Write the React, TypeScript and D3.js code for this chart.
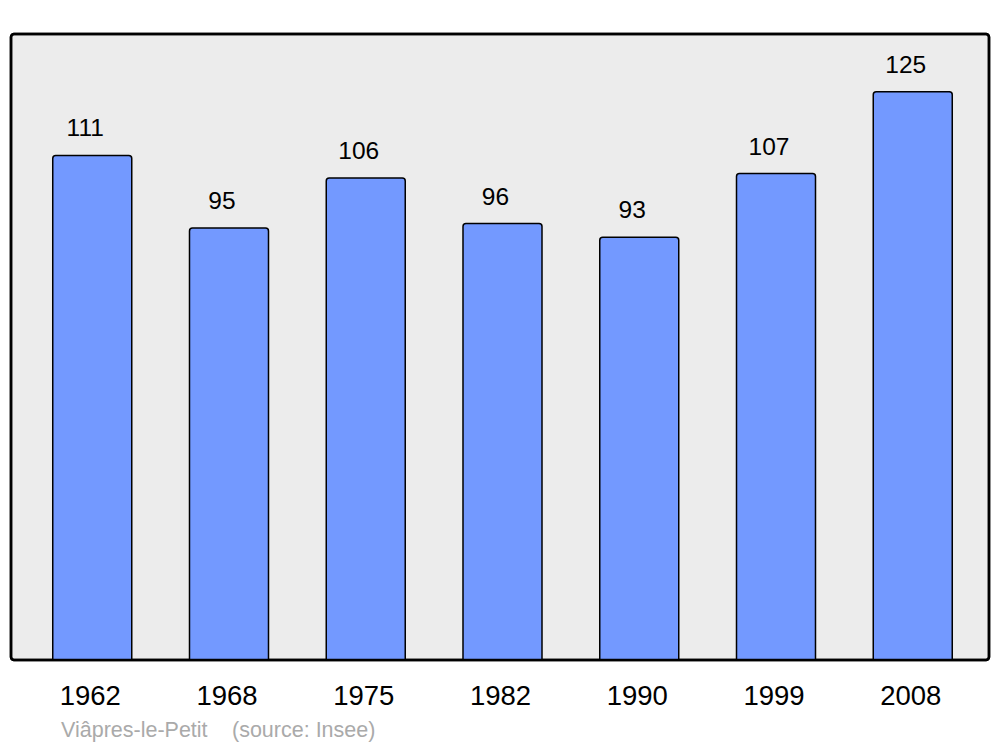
import React from "react";
import * as d3 from "d3";

const years = ["1962", "1968", "1975", "1982", "1990", "1999", "2008"];
const population = [111, 95, 106, 96, 93, 107, 125];
const townName = "Viâpres-le-Petit";
const sourceText = "(source: Insee)";

export default function App() {
  const W = 1000;
  const H = 747;
  const panel = { x: 11, y: 34, w: 978, h: 626 };
  const x = d3
    .scaleBand<string>()
    .domain(years)
    .range([16, 989])
    .paddingInner(0.4223)
    .paddingOuter(0.2687);
  const y = d3.scaleLinear().domain([0, 137.7]).range([panel.y + panel.h, panel.y]);
  const font = "'Liberation Sans', Arial, sans-serif";

  return (
    <svg
      width={W}
      height={H}
      style={{ position: "absolute", left: 0, top: 0 }}
      fontFamily={font}
    >
      <rect x={0} y={0} width={W} height={H} fill="#ffffff" />
      <rect
        x={panel.x}
        y={panel.y}
        width={panel.w}
        height={panel.h}
        rx={3}
        fill="#ececec"
        stroke="#000"
        strokeWidth={2.5}
      />
      {years.map((yr, i) => {
        const bx = x(yr)!;
        const bw = x.bandwidth();
        const top = y(population[i]);
        const cx = bx + bw / 2;
        return (
          <g key={yr}>
            <path
              d={`M${bx},${y(0)} L${bx},${top + 3} Q${bx},${top} ${bx + 3},${top} L${bx + bw - 3},${top} Q${bx + bw},${top} ${bx + bw},${top + 3} L${bx + bw},${y(0)}`}
              fill="#7399ff"
              stroke="#000"
              strokeWidth={1.5}
            />
            <text x={cx - 7} y={top - 19} textAnchor="middle" fontSize={24.5} fill="#000">
              {population[i]}
            </text>
            <text x={cx - 2} y={705} textAnchor="middle" fontSize={27.5} fill="#000">
              {yr}
            </text>
          </g>
        );
      })}
      <rect
        x={panel.x}
        y={panel.y}
        width={panel.w}
        height={panel.h}
        rx={3}
        fill="none"
        stroke="#000"
        strokeWidth={2.5}
      />
      <text x={61} y={737} fontSize={21.5} fill="#aaaaaa">
        {townName}
      </text>
      <text x={232} y={737} fontSize={21.5} fill="#aaaaaa">
        {sourceText}
      </text>
    </svg>
  );
}
